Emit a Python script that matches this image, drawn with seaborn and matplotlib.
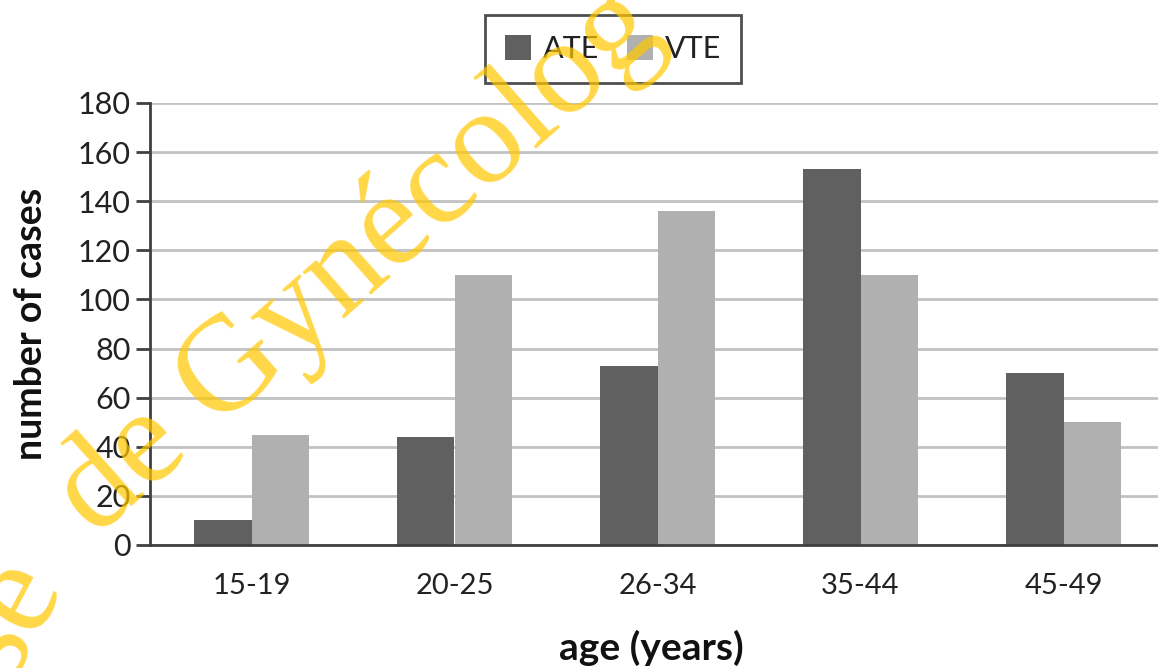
import pandas as pd
import numpy as np
import seaborn as sns
import matplotlib.pyplot as plt
from matplotlib.ticker import FixedLocator

# --- DATA ---
age_groups = ['15-19', '20-25', '26-34', '35-44', '45-49']
ate_cases = [10, 44, 73, 153, 70]
vte_cases = [45, 110, 136, 110, 50]
series_names = ['ATE', 'VTE']
y_ticks = [0, 20, 40, 60, 80, 100, 120, 140, 160, 180]

df = pd.DataFrame({
    'age': age_groups * 2,
    'cases': ate_cases + vte_cases,
    'type': [series_names[0]] * len(age_groups) + [series_names[1]] * len(age_groups),
})

sns.set_theme(style='white')
plt.rcParams['font.family'] = ['Lato', 'DejaVu Sans']

W, H = 1158, 668
fig = plt.figure(figsize=(W / 100, H / 100), dpi=100)
ax = fig.add_axes([150 / W, 1 - 545 / H, (1165 - 150) / W, (545 - 103) / H])

sns.barplot(data=df, x='age', y='cases', hue='type',
            palette=['#606060', '#b0b0b0'], width=0.57, gap=0,
            saturation=1, linewidth=0, ax=ax)

ax.set_xlim(-0.5, 4.5)
ax.set_ylim(0, 180)
ax.set_yticks(y_ticks)
ax.yaxis.grid(True, color='#c2c2c2', linewidth=2)
ax.set_axisbelow(True)

for side in ['top', 'right']:
    ax.spines[side].set_visible(False)
for side in ['left', 'bottom']:
    ax.spines[side].set_color('#404040')
    ax.spines[side].set_linewidth(2)

# category labels without ticks, boundary ticks as minor ticks
ax.tick_params(axis='x', which='major', length=0, labelsize=21, pad=20, colors='#222222')
ax.xaxis.set_minor_locator(FixedLocator(np.arange(-0.5, 4.6, 1)))
ax.tick_params(axis='x', which='minor', length=10, width=2, color='#404040', direction='out')
ax.tick_params(axis='y', length=10, width=2, color='#404040', direction='out',
               labelsize=22, pad=4, labelcolor='#222222', left=True)

ax.set_xlabel('age (years)', fontsize=28, fontweight='bold', color='#111111')
ax.set_ylabel('number of cases', fontsize=27, fontweight='bold', color='#111111')
ax.xaxis.set_label_coords((651 - 150) / 1015, (545 - 648) / 442)
ax.xaxis.label.set_va('center')
ax.yaxis.set_label_coords((31 - 150) / 1015, 0.5)
ax.yaxis.label.set_va('center')

leg = ax.legend(loc='center', bbox_to_anchor=(613 / W, 1 - 49 / H),
                bbox_transform=fig.transFigure, ncol=2, frameon=True,
                fancybox=False, fontsize=22, handlelength=0.85, handleheight=0.85,
                handletextpad=0.4, columnspacing=0.9, borderpad=0.65)
leg.get_frame().set_edgecolor('#222222')
leg.get_frame().set_linewidth(2)
for t in leg.get_texts():
    t.set_color('#222222')

# watermark
wm = dict(fontsize=98, family=['Liberation Serif', 'DejaVu Serif'], color='#FFC800',
          alpha=0.72, rotation_mode='anchor', ha='left', va='baseline', zorder=10)
fig.text(8 / W, 1 - 683 / H, 'se', rotation=62, **wm)
fig.text(96 / W, 1 - 538 / H, 'de Gynécolog', rotation=41.5, **wm)

fig.savefig('out.png', dpi=100)
